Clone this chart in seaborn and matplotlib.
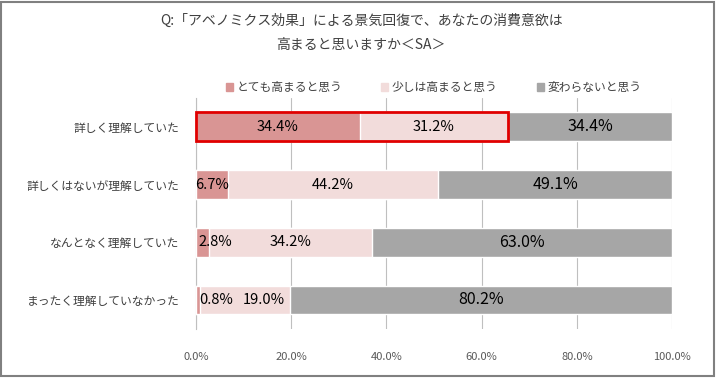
import numpy as np
import pandas as pd
import matplotlib
matplotlib.use("Agg")
import matplotlib.pyplot as plt
import matplotlib.patches as mpatches
import seaborn as sns

# Data
categories = ["詳しく理解していた", "詳しくはないが理解していた", "なんとなく理解していた", "まったく理解していなかった"]
series_names = ["とても高まると思う", "少しは高まると思う", "変わらないと思う"]
very_high = [34.4, 6.7, 2.8, 0.8]
a_little = [31.2, 44.2, 34.2, 19.0]
no_change = [34.4, 49.1, 63.0, 80.2]
x_ticks = [0, 20, 40, 60, 80, 100]

colors = ["#D99594", "#F2DCDB", "#A6A6A6"]
text_gray = "#404040"
grid_gray = "#BFBFBF"

sns.set_style("white")
plt.rcParams["font.family"] = ["Noto Sans CJK JP", "DejaVu Sans"]

df = pd.DataFrame({
    "category": categories,
    "very_high": very_high,
    "a_little": a_little,
    "no_change": no_change,
})
df["cum1"] = df["very_high"]
df["cum2"] = df["cum1"] + df["a_little"]
df["cum3"] = df["cum2"] + df["no_change"]

fig = plt.figure(figsize=(7.18, 3.78), dpi=100)
ax = fig.add_axes([0.273, 0.130, 0.663, 0.611])

# stacked bars: draw the cumulative totals back to front
for col, c in zip(["cum3", "cum2", "cum1"], colors[::-1]):
    sns.barplot(data=df, x=col, y="category", color=c, orient="h",
                width=0.5, saturation=1, ax=ax, zorder=3)

ax.set_xlim(0, 100)
ax.set_ylim(3.5, -0.5)
ax.set_xlabel("")
ax.set_ylabel("")
ax.set_xticks(x_ticks)
ax.set_xticklabels([f"{t:.1f}%" for t in x_ticks], fontsize=8, color="#595959")
ax.tick_params(axis="x", length=8, color=grid_gray, width=0.8, pad=9)
ax.tick_params(axis="y", length=0, pad=12, labelsize=8.5, labelcolor=text_gray)
ax.set_yticks(np.arange(-0.5, 4, 1), minor=True)
ax.tick_params(axis="y", which="minor", length=3, color=grid_gray, width=0.8)
ax.grid(axis="x", color=grid_gray, linewidth=0.8, zorder=0)
ax.set_axisbelow(True)
for s in ["top", "right", "bottom"]:
    ax.spines[s].set_visible(False)
ax.spines["left"].set_color(grid_gray)
ax.spines["left"].set_linewidth(0.8)

# value labels
for i, row in df.iterrows():
    if row["very_high"] < 5:
        ax.text(0.6, i, f"{row['very_high']:.1f}%", ha="left", va="center",
                fontsize=10.5, color="black", zorder=5)
    else:
        ax.text(row["cum1"] / 2, i, f"{row['very_high']:.1f}%", ha="center",
                va="center", fontsize=10.5, color="black", zorder=5)
    mid2 = max((row["cum1"] + row["cum2"]) / 2, 14.3)
    ax.text(mid2, i, f"{row['a_little']:.1f}%", ha="center", va="center",
            fontsize=10.5, color="black", zorder=5)
    ax.text((row["cum2"] + row["cum3"]) / 2, i, f"{row['no_change']:.1f}%",
            ha="center", va="center", fontsize=11.5, color="black", zorder=5)

# red highlight box around the first row's positive answers
ax.add_patch(mpatches.Rectangle((0, -0.25), df.loc[0, "cum2"], 0.5, fill=False,
                                edgecolor="#E00000", linewidth=2.0, zorder=6,
                                clip_on=False))

# legend
handles = [mpatches.Patch(color=c, label=n) for c, n in zip(colors, series_names)]
fig.legend(handles=handles, loc="center", bbox_to_anchor=(0.604, 0.768), ncol=3,
           frameon=False, fontsize=8.5, handlelength=0.6, handleheight=0.6,
           handletextpad=0.3, columnspacing=3.3, labelcolor=text_gray)

# title
fig.text(0.503, 0.945, "Q:「アベノミクス効果」による景気回復で、あなたの消費意欲は",
         ha="center", va="center", fontsize=10, color=text_gray)
fig.text(0.503, 0.88, "高まると思いますか＜SA＞",
         ha="center", va="center", fontsize=10, color=text_gray)

# outer frame
fig.patches.append(mpatches.Rectangle((0.002, 0.004), 0.992, 0.99, transform=fig.transFigure,
                                      fill=False, edgecolor="#808080", linewidth=1.5))

fig.savefig("out.png", dpi=100)
